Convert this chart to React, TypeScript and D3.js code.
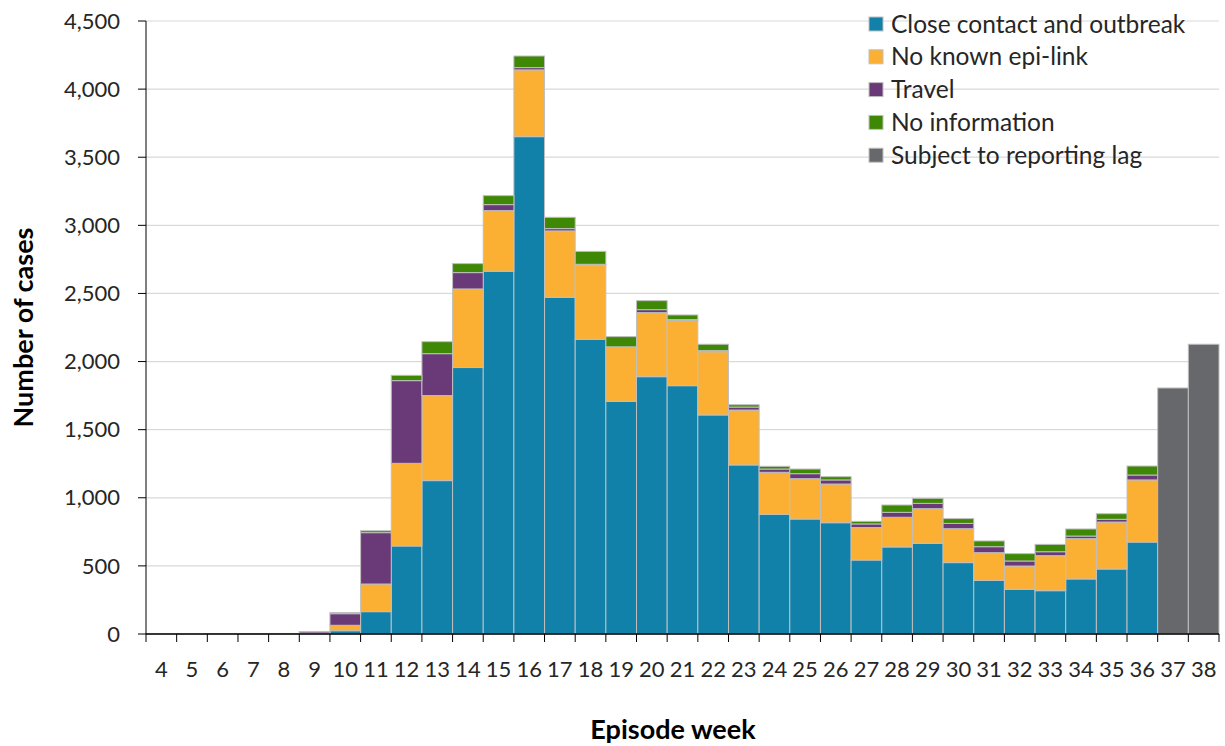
import React from "react";
import * as d3 from "d3";

const weeks = ["4","5","6","7","8","9","10","11","12","13","14","15","16","17","18","19","20","21","22","23","24","25","26","27","28","29","30","31","32","33","34","35","36","37","38"];
const closeContact = [1,1,2,1,2,2,24,164,646,1126,1956,2663,3651,2472,2163,1708,1889,1823,1608,1241,879,844,817,543,639,666,524,394,328,318,404,477,675,0,0];
const noEpiLink = [0,0,0,0,1,2,40,203,607,624,577,445,490,487,546,397,470,477,464,403,308,296,284,238,218,254,249,203,171,257,296,345,456,0,0];
const travel = [0,0,0,1,1,12,85,377,607,308,120,44,17,17,5,3,22,8,8,22,24,37,30,27,36,39,39,44,37,29,19,20,36,0,0];
const noInfo = [0,0,0,0,0,1,8,14,39,88,66,66,85,83,95,75,66,34,47,17,20,34,24,19,54,37,35,42,54,54,52,41,66,0,0];
const reportingLag = [0,0,0,0,0,0,0,0,0,0,0,0,0,0,0,0,0,0,0,0,0,0,0,0,0,0,0,0,0,0,0,0,0,1806,2127];

const seriesNames = ["Close contact and outbreak","No known epi-link","Travel","No information","Subject to reporting lag"];
const seriesKeys = ["close","epi","travel","info","lag"];
const colors = ["#1181AA","#FBB034","#6A3A78","#3F8805","#67686C"];
const yTicks = [0,500,1000,1500,2000,2500,3000,3500,4000,4500];

const W = 1225, H = 746;
const m = { left: 146, right: 1219, top: 21, bottom: 634 };
const FONT = "Lato, 'Open Sans', sans-serif";

export default function App() {
  const rows = weeks.map((w, i) => ({
    week: w,
    close: closeContact[i],
    epi: noEpiLink[i],
    travel: travel[i],
    info: noInfo[i],
    lag: reportingLag[i],
  }));
  const x = d3.scaleBand<string>().domain(weeks).range([m.left, m.right]).padding(0);
  const y = d3.scaleLinear().domain([0, 4500]).range([m.bottom, m.top]);
  const stacked = d3.stack<any>().keys(seriesKeys)(rows);
  const fmt = d3.format(",");
  const bw = x.bandwidth();

  return (
    <svg width={W} height={H} style={{ position: "absolute", left: 0, top: 0, background: "#fff" }} fontFamily={FONT}>
      {yTicks.filter(t => t > 0).map(t => (
        <line key={"g" + t} x1={m.left} x2={m.right} y1={y(t)} y2={y(t)} stroke="#D9D9D9" strokeWidth={1.2} />
      ))}
      {stacked.map((s, si) => (
        <g key={s.key} fill={colors[si]}>
          {s.map((d, i) => {
            const h = y(d[0]) - y(d[1]);
            if (h <= 0) return null;
            return (
              <rect key={i} x={x(weeks[i])!} y={y(d[1])} width={bw} height={h} stroke="#BFBFBF" strokeWidth={1} />
            );
          })}
        </g>
      ))}
      {/* axes */}
      <line x1={m.left} x2={m.left} y1={m.top} y2={m.bottom} stroke="#000" strokeWidth={1} />
      {yTicks.map(t => (
        <g key={"yt" + t}>
          <line x1={m.left - 8} x2={m.left} y1={y(t)} y2={y(t)} stroke="#000" />
          <text x={m.left - 26} y={y(t)} dy="0.35em" textAnchor="end" fontSize={22} fill="#262626">{fmt(t)}</text>
        </g>
      ))}
      <line x1={m.left} x2={m.right} y1={m.bottom} y2={m.bottom} stroke="#000" strokeWidth={1.5} />
      {weeks.map((w, i) => (
        <line key={"xt" + i} x1={x(w)!} x2={x(w)!} y1={m.bottom} y2={m.bottom + 8} stroke="#000" />
      ))}
      <line x1={m.right} x2={m.right} y1={m.bottom} y2={m.bottom + 8} stroke="#000" />
      {weeks.map(w => (
        <text key={"xl" + w} x={x(w)! + bw / 2} y={669} dy="0.35em" textAnchor="middle" fontSize={22} fill="#262626">{w}</text>
      ))}
      <text transform={`translate(24,${(m.top + m.bottom) / 2}) rotate(-90)`} textAnchor="middle" dy="0.35em" fontSize={27} fontWeight="bold" fill="#000">Number of cases</text>
      <text x={673} y={730} textAnchor="middle" dy="0.35em" fontSize={27} fontWeight="bold" fill="#000">Episode week</text>
      {seriesNames.map((n, i) => (
        <g key={n} transform={`translate(869,${24 + i * 32.8})`}>
          <rect x={0} y={-7} width={14} height={14} fill={colors[i]} stroke="#BFBFBF" strokeWidth={1} />
          <text x={22} y={0} dy="0.35em" fontSize={24.5} fill="#262626">{n}</text>
        </g>
      ))}
    </svg>
  );
}
